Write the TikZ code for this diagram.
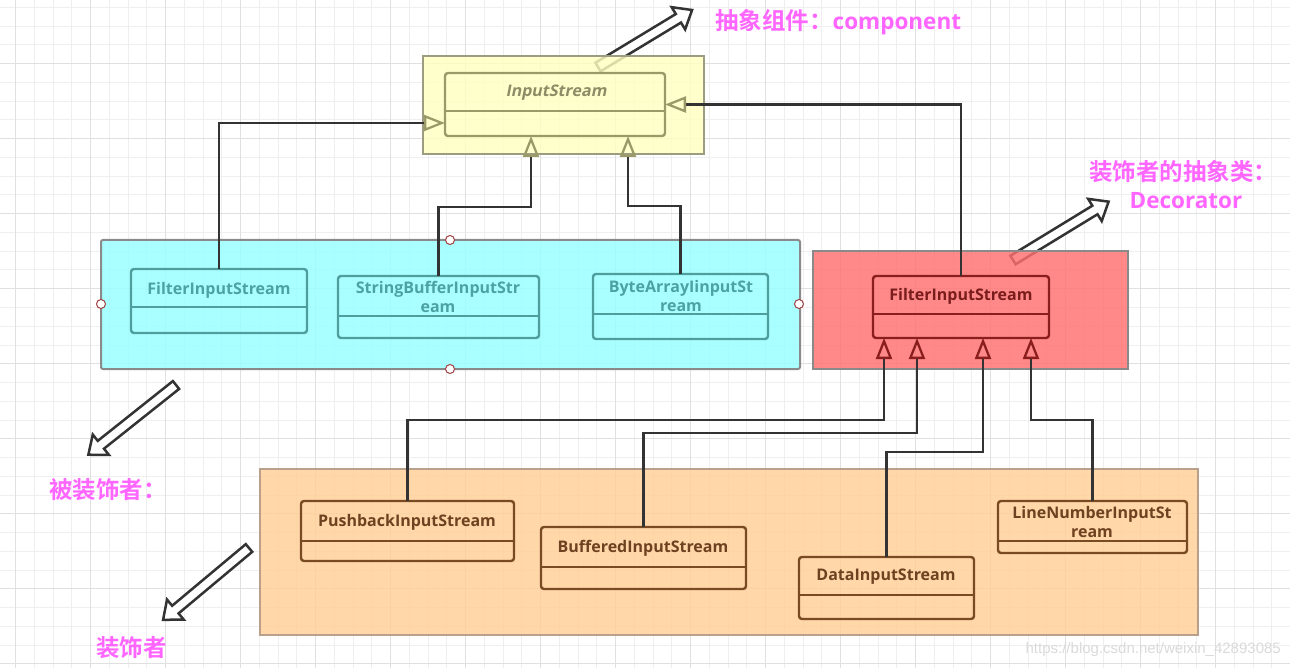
\documentclass[tikz,border=0pt]{standalone}
\usepackage{fontspec}
\usetikzlibrary{arrows.meta}
\newfontfamily\cjkb{Noto Sans CJK SC Bold}
\newfontfamily\clsf{Open Sans}
\newfontfamily\clsif{Open Sans}[FakeSlant=0.2]
\newfontfamily\wmf{Liberation Sans}
\newcommand\lat[1]{{\clsf\bfseries\fontsize{22.5}{26}\selectfont #1}}
\definecolor{gridminor}{HTML}{EFEFEF}
\definecolor{gridmajor}{HTML}{E0E0E0}
\definecolor{pinklbl}{HTML}{FF66FF}
\definecolor{connc}{HTML}{333333}
\definecolor{ylwfill}{HTML}{FFFFC1}
\definecolor{ylwborder}{HTML}{9C9C80}
\definecolor{ylwcls}{HTML}{9A9A68}
\definecolor{ylwtext}{HTML}{8C8C66}
\definecolor{cyanfill}{HTML}{97FFFF}
\definecolor{cyancls}{HTML}{4E9E9E}
\definecolor{cyantext}{HTML}{4AA2A2}
\definecolor{redfill}{HTML}{FF7070}
\definecolor{redcls}{HTML}{8A1E1E}
\definecolor{redtext}{HTML}{7A1C1C}
\definecolor{orgfill}{HTML}{FFCF97}
\definecolor{orgborder}{HTML}{B8A08A}
\definecolor{orgcls}{HTML}{7A4A22}
\definecolor{orgtext}{HTML}{6E4220}
\definecolor{contborder}{HTML}{8A8A8A}
\definecolor{handlec}{HTML}{A04040}
\definecolor{wmc}{HTML}{DADADA}
\tikzset{
  container/.style={line width=2pt, fill opacity=0.82, draw opacity=1},
  cls/.style={draw, rounded corners=3pt, line width=2.4pt, anchor=north west, inner sep=0pt, outer sep=0pt},
  clstext/.style={font=\clsf\bfseries\fontsize{16}{19.5}\selectfont, align=center, inner sep=0pt},
  conn/.style={draw=connc, line width=2.4pt},
  lbl/.style={font=\cjkb\fontsize{23.5}{27}\selectfont, text=pinklbl, inner sep=0pt},
  barrow/.style={draw=connc, fill=white, line width=2.5pt, line join=miter},
  handle/.style={draw=handlec, fill=white, line width=1pt},
  ytip/.style={-{Triangle[open,length=21pt,width=16pt,line width=2.3pt,color=ylwcls]}},
  rtip/.style={-{Triangle[open,length=21pt,width=16pt,line width=2.3pt,color=redcls]}},
}
\newcommand\umlbox[7]{%
  \node[cls,draw=#2,minimum width=#5pt,minimum height=#6pt] (#1) at (#3,#4) {};
  \draw[line width=2.4pt,#2] ([yshift=-#7pt]#1.north west) -- ([yshift=-#7pt]#1.north east);
}
\newcommand\blockarr[4]{%
  \begin{scope}[shift={(#1,#2)}, rotate=#3]
    \filldraw[barrow] (0,-5) -- (#4-16,-5) -- (#4-16,-13) -- (#4,0) -- (#4-16,13) -- (#4-16,5) -- (0,5) -- cycle;
  \end{scope}
}
\begin{document}
\begin{tikzpicture}[x=1pt,y=-1pt]
\useasboundingbox (0,0) rectangle (1290,668);
\fill[white] (0,0) rectangle (1290,668);
% grid
\foreach \i in {0,...,67} { \draw[gridminor, line width=1pt] ({15.5+18.75*\i},0) -- ({15.5+18.75*\i},668); }
\foreach \i in {0,...,35} { \draw[gridminor, line width=1pt] (0,{7.5+18.75*\i}) -- (1290,{7.5+18.75*\i}); }
\foreach \i in {0,...,16} { \draw[gridmajor, line width=1pt] ({15.5+75*\i},0) -- ({15.5+75*\i},668); }
\foreach \i in {0,...,9} { \draw[gridmajor, line width=1pt] (0,{-11.25+75*\i}) -- (1290,{-11.25+75*\i}); }

% block arrows (under the containers)
\blockarr{598}{67}{31.2}{110}
\blockarr{1013}{260}{31.4}{112}
\blockarr{176}{385}{218.5}{112}
\blockarr{249}{548}{219.9}{112}

% containers
\draw[container, draw=ylwborder, fill=ylwfill] (423,56) rectangle (704,154);
\draw[container, draw=contborder, fill=cyanfill, rounded corners=2pt] (101,240) rectangle (800,369);
\draw[container, draw=contborder, fill=redfill] (813,251) rectangle (1128,369);
\draw[container, draw=orgborder, fill=orgfill] (260,469) rectangle (1198,635);

% classes
\umlbox{ins}{ylwcls}{445}{73}{220}{63}{38}
\umlbox{fisa}{cyancls}{131}{269}{176}{64}{38}
\umlbox{sbis}{cyancls}{338}{276}{201}{62}{40}
\umlbox{bais}{cyancls}{593}{274}{175}{65}{40}
\umlbox{fisb}{redcls}{873}{276}{176}{62}{38}
\umlbox{pbis}{orgcls}{301}{501}{213}{60}{40}
\umlbox{bfis}{orgcls}{541}{527}{205}{62}{40}
\umlbox{dtis}{orgcls}{799}{557}{175}{62}{38}
\umlbox{lnis}{orgcls}{998}{501}{189}{52}{40}

% class names
\node[clstext, text=ylwtext, font=\clsif\bfseries\fontsize{16}{19.5}\selectfont] (tins) at (556,93) {InputStream};
\node[clstext, text=cyantext] (tfisa) at (219,290) {FilterInputStream};
\node[clstext, text=cyantext] (tsbis) at (438,297) {StringBufferInputStr\\eam};
\node[clstext, text=cyantext] (tbais) at (681,296) {ByteArrayIinputSt\\ream};
\node[clstext, text=redtext] (tfisb) at (961,296) {FilterInputStream};
\node[clstext, text=orgtext] (tpbis) at (407,522) {PushbackInputStream};
\node[clstext, text=orgtext] (tbfis) at (643,548) {BufferedInputStream};
\node[clstext, text=orgtext] (tdtis) at (886,577) {DataInputStream};
\node[clstext, text=orgtext] (tlnis) at (1092,522) {LineNumberInputSt\\ream};

% connectors to InputStream
\draw[conn, ytip] (fisa.north) |- ([yshift=-18.5pt]ins.west);
\draw[conn, ytip] (sbis.north) -- ++(0,-69) -| ([xshift=-24pt]ins.south);
\draw[conn, ytip] (bais.north) -- ++(0,-68) -| ([xshift=73pt]ins.south);
\draw[conn, ytip] (fisb.north) |- (ins.east);

% connectors to the decorator
\draw[conn, rtip] (pbis.north) -- ++(0,-81) -| ([xshift=-77pt]fisb.south);
\draw[conn, rtip] (bfis.north) -- ++(0,-94) -| ([xshift=-44pt]fisb.south);
\draw[conn, rtip] (dtis.north) -- ++(0,-105) -| ([xshift=22pt]fisb.south);
\draw[conn, rtip] (lnis.north) -- ++(0,-81) -| ([xshift=70pt]fisb.south);

% selection handles
\draw[handle] (101,304) circle[radius=4.5pt];
\draw[handle] (450,240) circle[radius=4.5pt];
\draw[handle] (799,304) circle[radius=4.5pt];
\draw[handle] (450,369) circle[radius=4.5pt];

% labels
\node[lbl, anchor=west] (lcomp) at (715,22) {抽象组件：\lat{component}};
\node[lbl, anchor=west] (ldeca) at (1089,172) {装饰者的抽象类：};
\node[lbl] (ldecb) at (1186,201) {\lat{Decorator}};
\node[lbl, anchor=west] (lbei) at (49,490) {被装饰者：};
\node[lbl, anchor=west] (lzs) at (96,648) {装饰者};

% watermark
\node[font=\wmf\fontsize{15}{18}\selectfont, text=wmc, anchor=east, inner sep=0pt] (wm) at (1281,650) {https://blog.csdn.net/weixin\_42893085};
\end{tikzpicture}
\end{document}
